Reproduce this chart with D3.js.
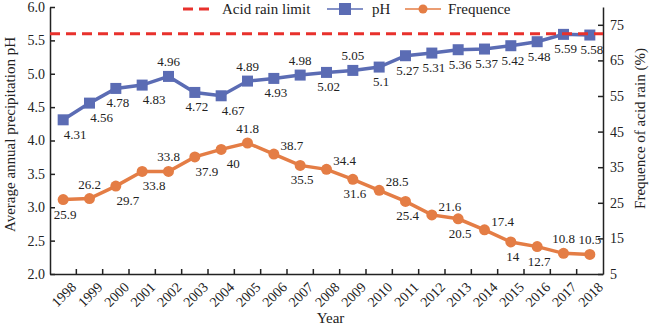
<!DOCTYPE html>
<html>
<head>
<meta charset="UTF-8">
<title>Acid rain</title>
<script src="https://d3js.org/d3.v7.min.js"></script>
<style>
    body { margin: 0; background: #fff; }
    svg text { font-family: "Liberation Serif", "Times New Roman", serif; fill: #222; }
    .axis path, .axis line { stroke: #222; stroke-width: 1.5; }
</style>
</head>
<body>
<div id="chart"></div>
<script>
var years = ["1998","1999","2000","2001","2002","2003","2004","2005","2006","2007","2008",
             "2009","2010","2011","2012","2013","2014","2015","2016","2017","2018"];
var phValues = [4.31,4.56,4.78,4.83,4.96,4.72,4.67,4.89,4.93,4.98,5.02,5.05,5.1,5.27,5.31,5.36,5.37,5.42,5.48,5.59,5.58];
var freqValues = [25.9,26.2,29.7,33.8,33.8,37.9,40,41.8,38.7,35.5,34.4,31.6,28.5,25.4,21.6,20.5,17.4,14,12.7,10.8,10.5];
// where each value label sits: a = above, ar = above right, b = below, br = below right
var phPlace = ["br","br","b","br","a","b","br","a","b","a","b","a","b","b","b","b","b","b","b","b","b"];
var freqPlace = ["b","a","br","br","a","br","br","a","ar","b","ar","b","ar","b","ar","b","ar","b","b","a","a"];
var phTicks = [2.0,2.5,3.0,3.5,4.0,4.5,5.0,5.5,6.0];
var freqTicks = [5,15,25,35,45,55,65,75];
var acidLimit = 5.6;

var blue = "#5b6cb4", orange = "#e47d45", red = "#e8312c";
var labelShift = {a: [0, -10], ar: [18, -4], b: [2, 19], br: [12, 19]};

var W = 650, H = 328;
var margin = {top: 7, right: 47, bottom: 54, left: 50};
var width = W - margin.left - margin.right;
var height = H - margin.top - margin.bottom;

var svg = d3.select("#chart").append("svg").attr("width", W).attr("height", H);
var g = svg.append("g").attr("transform", "translate(" + margin.left + "," + margin.top + ")");

var x = d3.scaleBand().domain(years).range([0, width]).padding(0);
var yL = d3.scaleLinear().domain([2, 6]).range([height, 0]);
var yR = d3.scaleLinear().domain([5, 80]).range([height, 0]);
var cx = function(d, i) { return x(years[i]) + x.bandwidth() / 2; };

// axes
var ax = g.append("g").attr("class", "axis")
    .call(d3.axisLeft(yL).tickValues(phTicks).tickFormat(d3.format(".1f")).tickSize(-5).tickPadding(5).tickSizeOuter(0));
ax.selectAll("text").style("font-size", "14px");

var ar = g.append("g").attr("class", "axis").attr("transform", "translate(" + width + ",0)")
    .call(d3.axisRight(yR).tickValues(freqTicks).tickSize(-5).tickPadding(7).tickSizeOuter(0));
ar.selectAll("text").style("font-size", "14px");

var ab = g.append("g").attr("class", "axis").attr("transform", "translate(0," + height + ")")
    .call(d3.axisBottom(x).tickSize(0).tickSizeOuter(0));
ab.selectAll("text")
    .attr("x", 0).attr("y", 0).attr("dy", 0)
    .attr("text-anchor", "end")
    .attr("transform", "translate(14,14) rotate(-45)")
    .style("font-size", "14px");
ab.selectAll(".tick-b").data(years.slice(0, -1)).enter().append("line")
    .attr("x1", function(d) { return x(d) + x.bandwidth(); })
    .attr("x2", function(d) { return x(d) + x.bandwidth(); })
    .attr("y1", 0).attr("y2", -5);

// axis titles
g.append("text")
    .attr("transform", "translate(" + (10 - margin.left) + "," + (height / 2 - 6) + ") rotate(-90)")
    .attr("text-anchor", "middle").attr("dy", "0.35em")
    .style("font-size", "15px")
    .text("Average annual precipitation pH");
g.append("text")
    .attr("transform", "translate(" + (width + 37) + "," + (height / 2 - 12) + ") rotate(-90)")
    .attr("text-anchor", "middle").attr("dy", "0.35em")
    .style("font-size", "15px")
    .text("Frequence of acid rain (%)");
g.append("text")
    .attr("x", width / 2 + 4).attr("y", height + 49)
    .attr("text-anchor", "middle")
    .style("font-size", "15px")
    .text("Year");

// pH series
g.append("path").datum(phValues)
    .attr("fill", "none").attr("stroke", blue).attr("stroke-width", 3.5)
    .attr("d", d3.line().x(cx).y(function(d) { return yL(d); }));
g.selectAll(".sq").data(phValues).enter().append("rect")
    .attr("x", function(d, i) { return cx(d, i) - 5.5; })
    .attr("y", function(d) { return yL(d) - 5.5; })
    .attr("width", 11).attr("height", 11)
    .attr("fill", blue);

// frequency series
g.append("path").datum(freqValues)
    .attr("fill", "none").attr("stroke", orange).attr("stroke-width", 3.5)
    .attr("d", d3.line().x(cx).y(function(d) { return yR(d); }));
g.selectAll(".ci").data(freqValues).enter().append("circle")
    .attr("cx", cx)
    .attr("cy", function(d) { return yR(d); })
    .attr("r", 5.5)
    .attr("fill", orange);

// acid rain limit, drawn over the series
g.append("line")
    .attr("x1", 0).attr("x2", width)
    .attr("y1", yL(acidLimit)).attr("y2", yL(acidLimit))
    .attr("stroke", red).attr("stroke-width", 3).attr("stroke-dasharray", "10,6");

// value labels
function addLabels(vals, place, scale) {
    g.selectAll(null).data(vals).enter().append("text")
        .attr("x", function(d, i) { return cx(d, i) + labelShift[place[i]][0]; })
        .attr("y", function(d, i) { return scale(d) + labelShift[place[i]][1]; })
        .attr("text-anchor", "middle")
        .style("font-size", "13px")
        .text(function(d) { return d; });
}
addLabels(phValues, phPlace, yL);
addLabels(freqValues, freqPlace, yR);

// legend
var lg = svg.append("g");
lg.append("line").attr("x1", 183).attr("x2", 213).attr("y1", 9).attr("y2", 9)
    .attr("stroke", red).attr("stroke-width", 3).attr("stroke-dasharray", "10,6");
lg.append("text").attr("x", 222).attr("y", 14).style("font-size", "15px").text("Acid rain limit");
lg.append("line").attr("x1", 327).attr("x2", 363).attr("y1", 9).attr("y2", 9)
    .attr("stroke", blue).attr("stroke-width", 1.5);
lg.append("rect").attr("x", 339).attr("y", 3).attr("width", 12).attr("height", 12).attr("fill", blue);
lg.append("text").attr("x", 372).attr("y", 14).style("font-size", "15px").text("pH");
lg.append("line").attr("x1", 405).attr("x2", 441).attr("y1", 9).attr("y2", 9)
    .attr("stroke", orange).attr("stroke-width", 1.5);
lg.append("circle").attr("cx", 423).attr("cy", 9).attr("r", 4.5).attr("fill", orange);
lg.append("text").attr("x", 448).attr("y", 14).style("font-size", "15px").text("Frequence");
</script>
</body>
</html>
